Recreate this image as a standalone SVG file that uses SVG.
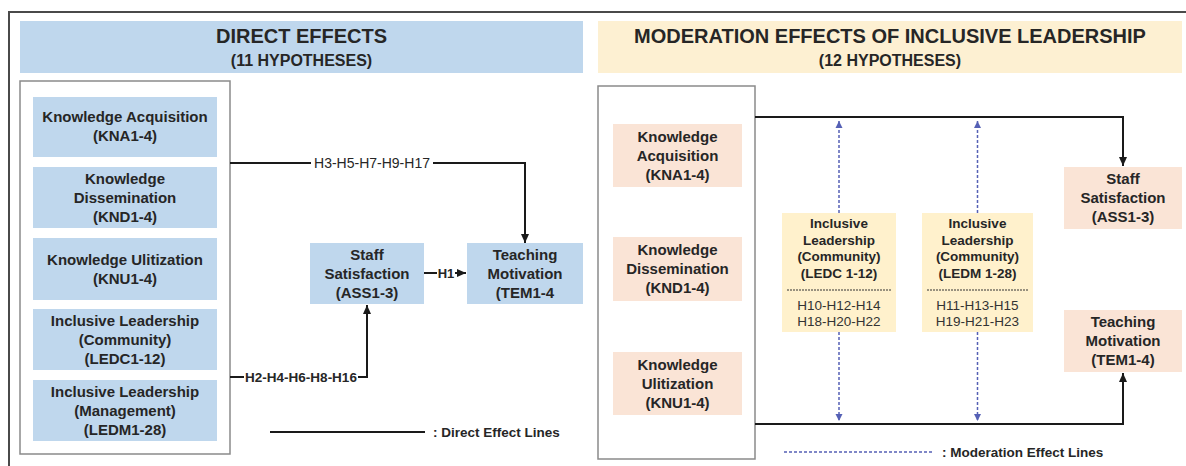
<svg xmlns="http://www.w3.org/2000/svg" width="1186" height="466" viewBox="0 0 1186 466">
<style>
text{font-family:"Liberation Sans",Arial,sans-serif;fill:#262626;}
.t{font-size:15px;font-weight:bold;text-anchor:middle;}
.h1{font-size:20px;font-weight:bold;text-anchor:middle;}
.h2{font-size:16px;font-weight:bold;text-anchor:middle;}
.y{font-size:13.5px;font-weight:bold;text-anchor:middle;}
.yr{font-size:13.5px;text-anchor:middle;fill:#333;}
.lab{font-size:14px;text-anchor:middle;}
.leg{font-size:13.5px;font-weight:bold;}
.blue{fill:#bfd7ed;}
.peach{fill:#fae4d6;}
.yel{fill:#fff1cc;}
.frame{fill:#fff;stroke:#8a8a8a;stroke-width:1.5;}
.solid{fill:none;stroke:#1a1a1a;stroke-width:2;}
.dash{fill:none;stroke:#5560b5;stroke-width:1.5;stroke-dasharray:3 2;}
</style>
<defs>
<marker id="ar" markerUnits="userSpaceOnUse" markerWidth="10" markerHeight="10" refX="9" refY="5" orient="auto">
<path d="M0,1 L9,5 L0,9 z" fill="#1a1a1a"/>
</marker>
<marker id="ab" markerUnits="userSpaceOnUse" markerWidth="8" markerHeight="8" refX="7" refY="4" orient="auto">
<path d="M0,0.5 L7,4 L0,7.5 z" fill="#5560b5"/>
</marker>
</defs>
<rect x="0" y="0" width="1186" height="466" fill="#fff"/>
<path d="M9,466 V12 H1186" fill="none" stroke="#4a4a4a" stroke-width="2"/>

<g id="header-direct">
<rect x="20" y="21" width="563" height="52" class="blue"/>
<text class="h1" x="301.5" y="43">DIRECT EFFECTS</text>
<text class="h2" x="301.5" y="66">(11 HYPOTHESES)</text>
</g>
<g id="header-moderation">
<rect x="598" y="21" width="584" height="52" fill="#fdf0d2"/>
<text class="h1" x="890" y="43">MODERATION EFFECTS OF INCLUSIVE LEADERSHIP</text>
<text class="h2" x="890" y="66">(12 HYPOTHESES)</text>
</g>

<g id="left-container"><rect x="20" y="81" width="210" height="373" class="frame"/></g>
<g id="right-container"><rect x="598" y="86" width="157" height="373" class="frame"/></g>

<g id="L-KNA"><rect x="33" y="97" width="184" height="60" class="blue"/>
<text class="t" x="125" y="122">Knowledge Acquisition</text><text class="t" x="125" y="141">(KNA1-4)</text></g>
<g id="L-KND"><rect x="33" y="167" width="184" height="61" class="blue"/>
<text class="t" x="125" y="183.5">Knowledge</text><text class="t" x="125" y="202.5">Dissemination</text><text class="t" x="125" y="221.5">(KND1-4)</text></g>
<g id="L-KNU"><rect x="33" y="238" width="184" height="62" class="blue"/>
<text class="t" x="125" y="264.5">Knowledge Ulitization</text><text class="t" x="125" y="283.5">(KNU1-4)</text></g>
<g id="L-LEDC"><rect x="33" y="309" width="184" height="61" class="blue"/>
<text class="t" x="125" y="325.5">Inclusive Leadership</text><text class="t" x="125" y="344.5">(Community)</text><text class="t" x="125" y="363.5">(LEDC1-12)</text></g>
<g id="L-LEDM"><rect x="33" y="380" width="184" height="61" class="blue"/>
<text class="t" x="125" y="396.5">Inclusive Leadership</text><text class="t" x="125" y="415.5">(Management)</text><text class="t" x="125" y="434.5">(LEDM1-28)</text></g>
<g id="L-ASS"><rect x="310" y="243" width="114" height="61" class="blue"/>
<text class="t" x="367" y="259.5">Staff</text><text class="t" x="367" y="278.5">Satisfaction</text><text class="t" x="367" y="297.5">(ASS1-3)</text></g>
<g id="L-TEM"><rect x="467" y="243" width="116" height="61" class="blue"/>
<text class="t" x="525" y="259.5">Teaching</text><text class="t" x="525" y="278.5">Motivation</text><text class="t" x="525" y="297.5">(TEM1-4</text></g>

<g id="R-KNA"><rect x="613" y="124" width="129" height="63" class="peach"/>
<text class="t" x="677.5" y="141.5">Knowledge</text><text class="t" x="677.5" y="160.5">Acquisition</text><text class="t" x="677.5" y="179.5">(KNA1-4)</text></g>
<g id="R-KND"><rect x="613" y="237" width="129" height="64" class="peach"/>
<text class="t" x="677.5" y="255">Knowledge</text><text class="t" x="677.5" y="274">Dissemination</text><text class="t" x="677.5" y="293">(KND1-4)</text></g>
<g id="R-KNU"><rect x="613" y="352" width="129" height="63" class="peach"/>
<text class="t" x="677.5" y="369.5">Knowledge</text><text class="t" x="677.5" y="388.5">Ulitization</text><text class="t" x="677.5" y="407.5">(KNU1-4)</text></g>
<g id="R-ASS"><rect x="1064" y="167" width="118" height="62" class="peach"/>
<text class="t" x="1123" y="184">Staff</text><text class="t" x="1123" y="203">Satisfaction</text><text class="t" x="1123" y="222">(ASS1-3)</text></g>
<g id="R-TEM"><rect x="1064" y="310" width="118" height="62" class="peach"/>
<text class="t" x="1123" y="327">Teaching</text><text class="t" x="1123" y="346">Motivation</text><text class="t" x="1123" y="365">(TEM1-4)</text></g>

<g id="R-LEDC"><rect x="782" y="213" width="114" height="119" class="yel"/>
<text class="y" x="839" y="228">Inclusive</text><text class="y" x="839" y="244.5">Leadership</text><text class="y" x="839" y="261">(Community)</text><text class="y" x="839" y="277.5">(LEDC 1-12)</text>
<line x1="787" y1="290" x2="891" y2="290" stroke="#333" stroke-width="1" stroke-dasharray="2 1"/>
<text class="yr" x="839" y="310">H10-H12-H14</text><text class="yr" x="839" y="326">H18-H20-H22</text></g>
<g id="R-LEDM"><rect x="922" y="213" width="111" height="119" class="yel"/>
<text class="y" x="977.5" y="228">Inclusive</text><text class="y" x="977.5" y="244.5">Leadership</text><text class="y" x="977.5" y="261">(Community)</text><text class="y" x="977.5" y="277.5">(LEDM 1-28)</text>
<line x1="927" y1="290" x2="1028" y2="290" stroke="#333" stroke-width="1" stroke-dasharray="2 1"/>
<text class="yr" x="977.5" y="310">H11-H13-H15</text><text class="yr" x="977.5" y="326">H19-H21-H23</text></g>

<g id="connectors">
<path class="solid" d="M230,163 H525 V243" marker-end="url(#ar)"/>
<rect x="311" y="155" width="122" height="16" fill="#fff"/>
<text class="lab" x="372" y="168">H3-H5-H7-H9-H17</text>
<path class="solid" d="M424,273 H466" marker-end="url(#ar)"/>
<rect x="437" y="265" width="18" height="16" fill="#fff"/>
<text class="lab" x="446" y="278" style="font-size:13px;font-weight:bold">H1</text>
<path class="solid" d="M230,377 H367 V305" marker-end="url(#ar)"/>
<rect x="244" y="369" width="114" height="16" fill="#fff"/>
<text class="lab" x="301" y="382" style="font-size:13.5px;font-weight:bold">H2-H4-H6-H8-H16</text>
<path class="solid" d="M755,117 H1123 V166" marker-end="url(#ar)"/>
<path class="solid" d="M755,424 H1123 V373" marker-end="url(#ar)"/>
<path class="dash" d="M839,213 V121" marker-end="url(#ab)"/>
<path class="dash" d="M839,332 V421" marker-end="url(#ab)"/>
<path class="dash" d="M977.5,213 V121" marker-end="url(#ab)"/>
<path class="dash" d="M977.5,332 V421" marker-end="url(#ab)"/>
</g>

<g id="legend-direct">
<line x1="270" y1="432" x2="425" y2="432" class="solid"/>
<text class="leg" x="433" y="437">: Direct Effect Lines</text>
</g>
<g id="legend-moderation">
<line x1="784" y1="452" x2="934" y2="452" class="dash"/>
<text class="leg" x="942" y="457">: Moderation Effect Lines</text>
</g>
</svg>
